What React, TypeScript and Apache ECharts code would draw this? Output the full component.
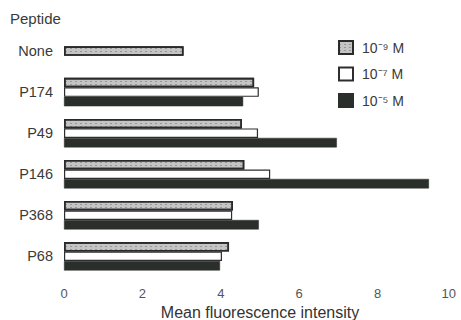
import React, { useEffect, useRef } from "react";
import * as echarts from "echarts";

const categories = ["None", "P174", "P49", "P146", "P368", "P68"];
const noPeptide = [3.05, null, null, null, null, null];
const conc9 = [null, 4.85, 4.54, 4.6, 4.31, 4.21];
const conc7 = [null, 4.97, 4.95, 5.26, 4.29, 4.03];
const conc5 = [null, 4.57, 6.96, 9.31, 4.97, 3.98];
const legendNames = ["10⁻⁹ M", "10⁻⁷ M", "10⁻⁵ M"];
const xTicks = [0, 2, 4, 6, 8, 10];

const FONT = "Liberation Sans, Arial, sans-serif";

const patternStyle = {
  color: "#c4c4c4",
  borderColor: "#2a2a2a",
  borderWidth: 1.6,
  decal: {
    symbol: "rect",
    symbolSize: 0.8,
    dashArrayX: [2, 3],
    dashArrayY: [1, 2],
    rotation: 0,
    color: "rgba(70,70,70,0.45)",
  },
};

export default function App() {
  const ref = useRef<HTMLDivElement>(null);
  useEffect(() => {
    if (!ref.current) return;
    const chart = echarts.init(ref.current, null, { renderer: "svg" });
    chart.setOption({
      animation: false,
      backgroundColor: "#ffffff",
      textStyle: { fontFamily: FONT },
      grid: {
        left: 64,
        right: 5,
        top: 30.5,
        bottom: 43.2,
        containLabel: false,
        outerBoundsMode: "none",
      },
      title: {
        text: "Peptide",
        left: 10,
        top: 11,
        padding: 0,
        textStyle: { fontSize: 15, fontWeight: "normal", color: "#3a3a3a", fontFamily: FONT },
      },
      legend: {
        data: legendNames,
        orient: "vertical",
        left: 338,
        top: 40,
        padding: 0,
        icon: "rect",
        itemWidth: 14,
        itemHeight: 13,
        itemGap: 11.5,
        textStyle: { fontSize: 14, color: "#3a3a3a", fontFamily: FONT, padding: [0, 0, 0, 4] },
      },
      xAxis: {
        type: "value",
        min: 0,
        max: 10,
        interval: 2,
        name: "Mean fluorescence intensity",
        nameLocation: "middle",
        nameGap: 28,
        nameTextStyle: { fontSize: 16, color: "#333", fontFamily: FONT },
        axisLine: { show: false },
        axisTick: { show: false },
        splitLine: { show: false },
        axisLabel: {
          fontSize: 13,
          color: "#555",
          margin: 10,
          fontFamily: FONT,
          alignMaxLabel: "right",
          formatter: (v: number) => (xTicks.includes(v) ? String(v) : ""),
        },
      },
      yAxis: {
        type: "category",
        data: categories,
        inverse: true,
        axisLine: { show: false },
        axisTick: { show: false },
        axisLabel: {
          fontSize: 14.5,
          color: "#3a3a3a",
          margin: 11,
          padding: [5, 0, 0, 0],
          fontFamily: FONT,
        },
      },
      series: [
        {
          name: legendNames[0],
          type: "bar",
          data: conc9,
          barWidth: 9.5,
          barGap: "0%",
          itemStyle: patternStyle,
        },
        {
          name: legendNames[1],
          type: "bar",
          stack: "mid",
          data: conc7,
          barWidth: 9.5,
          barGap: "0%",
          itemStyle: { color: "#ffffff", borderColor: "#2e2e2e", borderWidth: 1.2 },
        },
        {
          name: legendNames[2],
          type: "bar",
          data: conc5,
          barWidth: 9.5,
          barGap: "0%",
          itemStyle: { color: "#2b2f2b", borderColor: "#2b2f2b", borderWidth: 0.5 },
        },
        {
          name: "None",
          type: "bar",
          stack: "mid",
          data: noPeptide,
          barWidth: 9.5,
          barGap: "0%",
          itemStyle: patternStyle,
        },
      ],
    });
    return () => chart.dispose();
  }, []);
  return (
    <div
      ref={ref}
      style={{ position: "fixed", left: 0, top: 0, width: 461, height: 320, background: "#fff" }}
    />
  );
}
